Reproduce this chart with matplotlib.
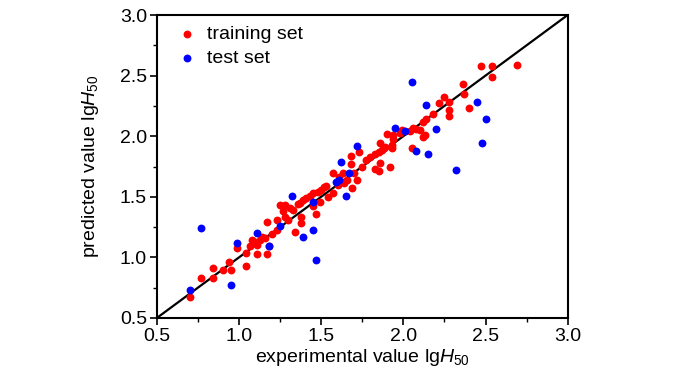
import numpy as np
import matplotlib
matplotlib.use("Agg")
import matplotlib.pyplot as plt

plt.rcParams['font.family'] = ['Liberation Sans', 'DejaVu Sans']
plt.rcParams['mathtext.fontset'] = 'custom'
plt.rcParams['mathtext.rm'] = 'Liberation Sans'
plt.rcParams['mathtext.it'] = 'Liberation Sans:italic'

# training set (experimental, predicted)
train_x = [0.70, 0.77, 0.84, 0.84, 0.90, 0.94, 0.95, 1.04, 0.99, 1.04,
           1.08, 1.07, 1.11, 1.11, 1.13, 1.17, 1.17, 1.16, 1.20, 1.23,
           1.23, 1.14, 1.18, 1.10, 1.25, 1.28, 1.27, 1.28, 1.30, 1.34,
           1.36, 1.38, 1.38, 1.33, 1.41, 1.43, 1.45, 1.48, 1.50, 1.47,
           1.49, 1.52, 1.53, 1.57, 1.57, 1.60, 1.63, 1.64, 1.69, 1.72,
           1.45, 1.37, 1.54, 1.39, 1.31, 1.68, 1.68, 1.70, 1.73, 1.75,
           1.80, 1.83, 1.85, 1.87, 1.89, 1.93, 1.86, 1.90, 1.94, 1.86,
           1.83, 1.85, 1.92, 1.94, 1.93, 1.88, 1.99, 2.04, 2.08, 2.10,
           2.06, 1.98, 2.13, 2.12, 2.05, 2.12, 2.14, 2.18, 2.22, 2.25,
           2.28, 2.28, 2.28, 2.36, 2.37, 2.40, 2.47, 2.54, 2.69, 2.54,
           1.77, 1.61, 1.66]
train_y = [0.67, 0.83, 0.91, 0.83, 0.90, 0.96, 0.90, 0.93, 1.08, 1.04,
           1.14, 1.09, 1.03, 1.10, 1.14, 1.03, 1.29, 1.16, 1.19, 1.31,
           1.23, 1.17, 1.09, 1.13, 1.43, 1.43, 1.38, 1.33, 1.31, 1.21,
           1.44, 1.33, 1.28, 1.39, 1.49, 1.51, 1.53, 1.54, 1.56, 1.36,
           1.46, 1.58, 1.59, 1.70, 1.53, 1.60, 1.70, 1.61, 1.57, 1.64,
           1.42, 1.45, 1.50, 1.47, 1.41, 1.84, 1.77, 1.70, 1.87, 1.75,
           1.83, 1.85, 1.87, 1.89, 1.91, 1.93, 1.94, 2.02, 2.01, 1.78,
           1.73, 1.71, 1.75, 1.98, 1.90, 1.90, 2.05, 2.04, 2.06, 2.05,
           2.07, 2.03, 2.01, 1.99, 1.90, 2.12, 2.14, 2.18, 2.27, 2.32,
           2.28, 2.22, 2.17, 2.43, 2.35, 2.23, 2.58, 2.58, 2.59, 2.49,
           1.80, 1.66, 1.64]

# test set
test_x = [0.70, 0.77, 0.95, 0.99, 1.11, 1.18, 1.25, 1.32, 1.39, 1.45,
          1.45, 1.47, 1.59, 1.61, 1.62, 1.65, 1.67, 1.72, 1.95, 2.01,
          2.05, 2.08, 2.14, 2.15, 2.20, 2.32, 2.45, 2.50, 2.48]
test_y = [0.73, 1.24, 0.77, 1.12, 1.20, 1.09, 1.26, 1.51, 1.17, 1.23,
          1.46, 0.98, 1.62, 1.64, 1.79, 1.51, 1.70, 1.92, 2.07, 2.04,
          2.45, 1.88, 2.26, 1.85, 2.06, 1.72, 2.28, 2.14, 1.94]

fig = plt.figure(figsize=(7, 3.75), dpi=100)
ax = fig.add_axes([0.224, 0.152, 0.587, 0.808])

ax.plot([0.5, 3.0], [0.5, 3.0], color='black', lw=1.6, zorder=1)
ax.scatter(train_x, train_y, s=32, color='#ff0000', linewidths=0, label='training set', zorder=2)
ax.scatter(test_x, test_y, s=32, color='#0000ff', linewidths=0, label='test set', zorder=3)

ax.set_xlim(0.5, 3.0)
ax.set_ylim(0.5, 3.0)
ax.set_xticks(np.arange(0.5, 3.01, 0.5))
ax.set_yticks(np.arange(0.5, 3.01, 0.5))
ax.set_xticks(np.arange(0.75, 3.0, 0.5), minor=True)
ax.set_yticks(np.arange(0.75, 3.0, 0.5), minor=True)
ax.tick_params(which='major', direction='out', length=5, width=1.2, labelsize=14, pad=2)
ax.tick_params(which='minor', direction='out', length=3, width=1.0)
for sp in ax.spines.values():
    sp.set_linewidth(1.5)

ax.set_xlabel(r'experimental value lg$\mathit{H}_{50}$', fontsize=14, labelpad=2)
ax.set_ylabel(r'predicted value lg$\mathit{H}_{50}$', fontsize=14, labelpad=14)

ax.legend(loc='upper left', frameon=False, fontsize=14, handletextpad=0.05,
          borderaxespad=0.15, labelspacing=0.3, markerscale=1.0)

fig.savefig('out.png', dpi=100)
